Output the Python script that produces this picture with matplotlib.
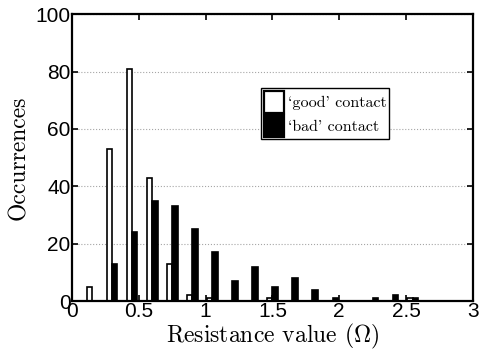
import numpy as np
import matplotlib.pyplot as plt

plt.rcParams['mathtext.fontset'] = 'cm'

# bin centres of the resistance histogram (ohm)
centres = np.round(np.arange(1, 20) * 0.15, 2)
good = [5, 53, 81, 43, 13, 2, 1, 0, 0, 1, 0, 0, 0, 0, 0, 0, 1, 0, 0]
bad = [0, 13, 24, 35, 33, 25, 17, 7, 12, 5, 8, 4, 1, 0, 1, 2, 1, 0, 0]

w = 0.04
fig = plt.figure(figsize=(4.8, 3.53), dpi=100)
ax = fig.add_axes([0.15, 0.147, 0.835, 0.813])

ax.bar(centres - w / 2, good, width=w, color='white', edgecolor='black',
       linewidth=1.2, label="`good' contact")
ax.bar(centres + w / 2, bad, width=w, color='black', edgecolor='black',
       linewidth=1.2, label="`bad' contact")

ax.set_xlim(0, 3)
ax.set_ylim(0, 100)
ax.set_xticks([0, 0.5, 1, 1.5, 2, 2.5, 3])
ax.set_xticklabels(['0', '0.5', '1', '1.5', '2', '2.5', '3'])
ax.set_yticks([0, 20, 40, 60, 80, 100])
ax.yaxis.grid(True, linestyle=':', color='0.65', linewidth=0.8)
ax.set_axisbelow(True)

for s in ax.spines.values():
    s.set_linewidth(1.6)
ax.tick_params(direction='in', top=True, right=True, length=4, width=1.2,
               labelsize=15, pad=1)
for t in ax.get_xticklabels() + ax.get_yticklabels():
    t.set_family('Liberation Sans')

ax.set_xlabel(r'Resistance value ($\Omega$)', family='cmr10', fontsize=17,
              labelpad=0.5)
ax.set_ylabel('Occurrences', family='cmr10', fontsize=17, labelpad=4)

leg = ax.legend(loc='upper left', bbox_to_anchor=(0.472, 0.741),
                prop={'family': 'cmr10', 'size': 11.5}, frameon=True,
                fancybox=False, edgecolor='black', framealpha=1,
                handlelength=1.3, handleheight=1.75, handletextpad=0.2,
                borderpad=0.15, labelspacing=0.12, borderaxespad=0)
leg.get_frame().set_linewidth(1.0)
for h in leg.legend_handles:
    h.set_linewidth(1.6)

fig.savefig('out.png', dpi=100)
